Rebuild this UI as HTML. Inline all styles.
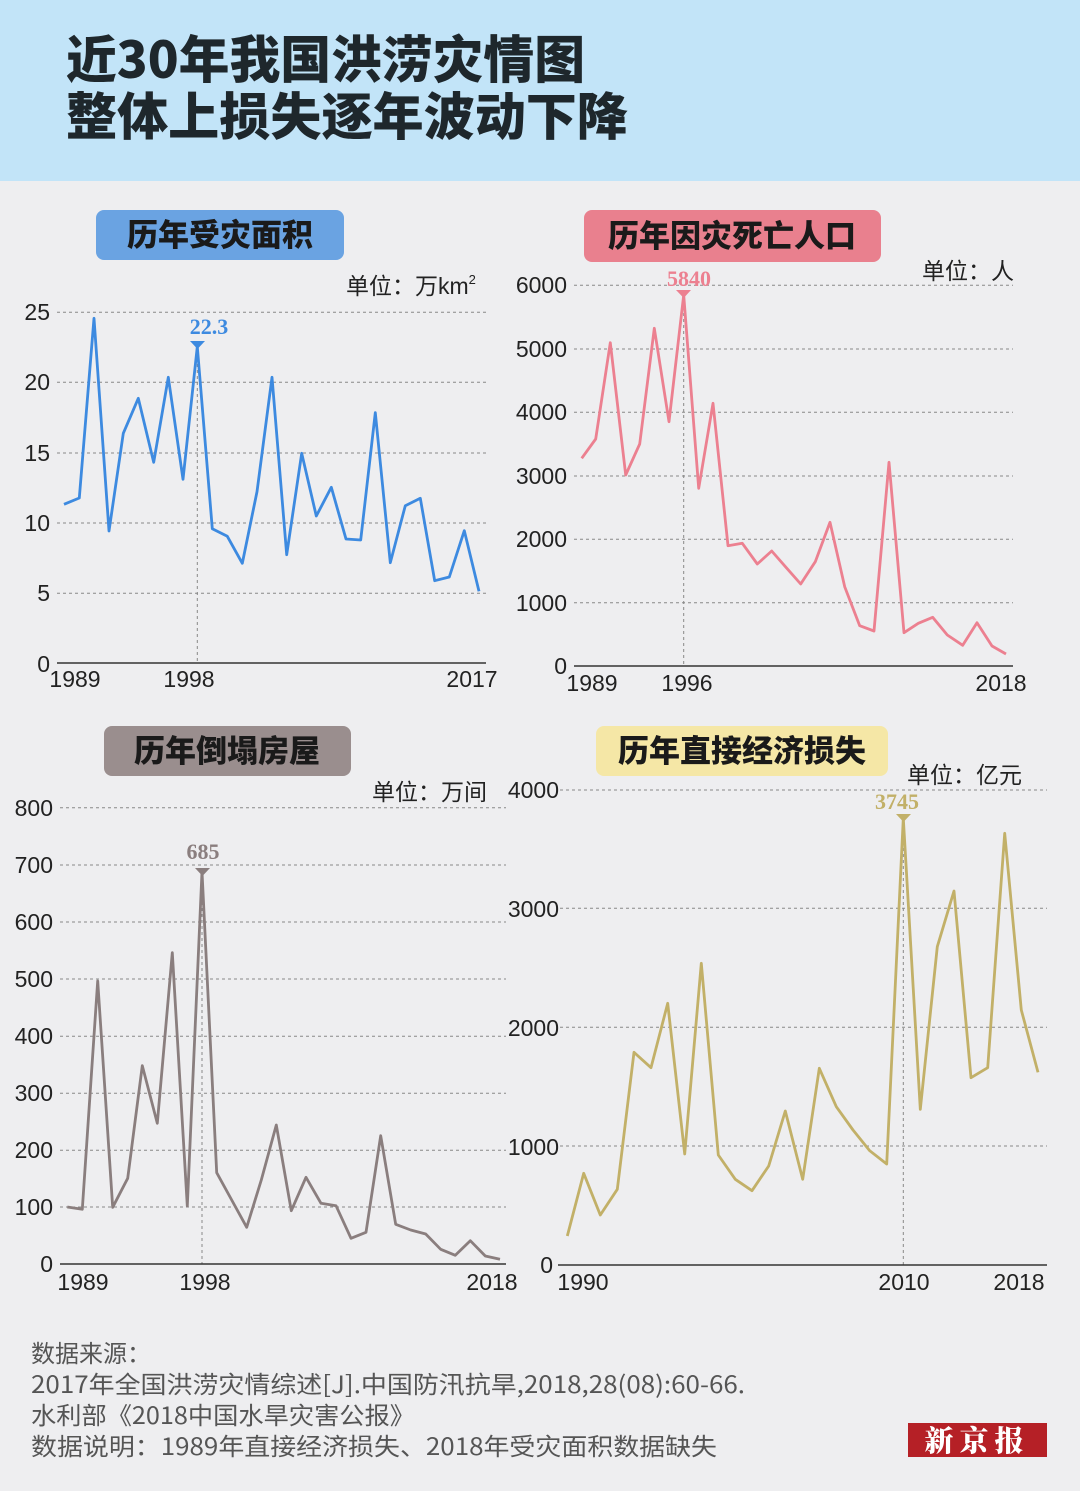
<!DOCTYPE html>
<html><head><meta charset="utf-8"><style>
html,body{margin:0;padding:0;background:#eeeef0}
svg{display:block}
.t{font-family:"Liberation Sans","Noto Sans CJK SC",sans-serif;fill:#222;font-size:23px}
.ti{font-family:"Noto Sans CJK SC",sans-serif;font-weight:900;fill:#1e272c}
.pl{font-family:"Noto Sans CJK SC",sans-serif;font-weight:900;fill:#1a1a1a;font-size:31px}
.g{stroke:#888;stroke-width:1;stroke-dasharray:3 3}
.ax{stroke:#333;stroke-width:1.5}
.ft{font-family:"Noto Sans CJK SC",sans-serif;fill:#555;font-size:24px}
.pk{font-family:"Liberation Serif","Noto Serif CJK SC",serif;font-weight:bold;font-size:22px}
</style></head><body>
<svg width="1080" height="1491" viewBox="0 0 1080 1491" xmlns="http://www.w3.org/2000/svg">
<rect width="1080" height="1491" fill="#eeeef0"/>
<rect width="1080" height="181" fill="#c2e4f8"/>
<text class="ti" x="66" y="78" font-size="51" textLength="519" lengthAdjust="spacingAndGlyphs">近30年我国洪涝灾情图</text>
<text class="ti" x="66" y="135" font-size="51" textLength="562" lengthAdjust="spacingAndGlyphs">整体上损失逐年波动下降</text>

<!-- Chart 1 -->
<rect x="96" y="210" width="248" height="50" rx="8" fill="#6aa3e2"/>
<text class="pl" x="220" y="246" text-anchor="middle">历年受灾面积</text>
<text class="t" x="346" y="294">单位：万km<tspan font-size="13" dy="-10">2</tspan></text>
<g>
<line class="g" x1="57" x2="486" y1="312.3" y2="312.3"/><line class="g" x1="57" x2="486" y1="382.3" y2="382.3"/><line class="g" x1="57" x2="486" y1="453" y2="453"/><line class="g" x1="57" x2="486" y1="523" y2="523"/><line class="g" x1="57" x2="486" y1="593.3" y2="593.3"/>
<line class="g" x1="197.3" x2="197.3" y1="346" y2="663"/>
<line class="ax" x1="57" x2="486" y1="663" y2="663"/>
<text class="t" x="50" y="320" text-anchor="end">25</text><text class="t" x="50" y="390" text-anchor="end">20</text><text class="t" x="50" y="461" text-anchor="end">15</text><text class="t" x="50" y="531" text-anchor="end">10</text><text class="t" x="50" y="601" text-anchor="end">5</text><text class="t" x="50" y="672" text-anchor="end">0</text>
<text class="t" x="75" y="687" text-anchor="middle">1989</text><text class="t" x="189" y="687" text-anchor="middle">1998</text><text class="t" x="472" y="687" text-anchor="middle">2017</text>
<polyline fill="none" stroke="#3d8ae0" stroke-width="2.8" stroke-linejoin="round" points="64,504.3 79.3,498 94,318.3 109,531 123.3,433.3 138.3,398.3 153.7,462.3 168.3,377.3 183,479.3 197.3,346.7 212.3,528.7 227.3,536.3 242.3,563.3 257,491.7 272,377.3 286.7,554.7 301.7,453.3 316.3,516 331.3,487.3 346,539 360.7,540 375.3,412.7 390.3,562.7 405.3,505.7 420.3,498.3 434.7,580.7 449.3,577 464.3,530.7 479,591.3"/>
<polygon points="190,341 205,341 197.5,349" fill="#3d8ae0"/>
<text class="pk" x="209" y="334" text-anchor="middle" fill="#3d8ae0">22.3</text>
</g>

<!-- Chart 2 -->
<rect x="584" y="210" width="297" height="52" rx="8" fill="#e9808e"/>
<text class="pl" x="732" y="247" text-anchor="middle">历年因灾死亡人口</text>
<text class="t" x="922" y="279">单位：人</text>
<g>
<line class="g" x1="574" x2="1013" y1="285.3" y2="285.3"/><line class="g" x1="574" x2="1013" y1="349" y2="349"/><line class="g" x1="574" x2="1013" y1="412.3" y2="412.3"/><line class="g" x1="574" x2="1013" y1="476" y2="476"/><line class="g" x1="574" x2="1013" y1="539.3" y2="539.3"/><line class="g" x1="574" x2="1013" y1="602.7" y2="602.7"/>
<line class="g" x1="683.7" x2="683.7" y1="295" y2="666"/>
<line class="ax" x1="574" x2="1013" y1="666" y2="666"/>
<text class="t" x="567" y="293" text-anchor="end">6000</text><text class="t" x="567" y="357" text-anchor="end">5000</text><text class="t" x="567" y="420" text-anchor="end">4000</text><text class="t" x="567" y="484" text-anchor="end">3000</text><text class="t" x="567" y="547" text-anchor="end">2000</text><text class="t" x="567" y="611" text-anchor="end">1000</text><text class="t" x="567" y="674" text-anchor="end">0</text>
<text class="t" x="592" y="691" text-anchor="middle">1989</text><text class="t" x="687" y="691" text-anchor="middle">1996</text><text class="t" x="1001" y="691" text-anchor="middle">2018</text>
<polyline fill="none" stroke="#ec8090" stroke-width="2.8" stroke-linejoin="round" points="581.7,458.3 595.7,439 610.3,342.7 625.7,475 639.7,444 654.3,328.3 669,421.7 683.7,295 698.7,488.3 713,403.3 728,545.7 742.3,543.3 757.3,564 771.7,551 786.3,567.7 800.7,584 815.3,561.7 830,522.3 844.7,586.7 859.7,625.7 874,631 889,462.3 904,632.7 918.3,623.3 932.7,617.3 947.3,635 962.7,645.3 977,622.7 992,646 1006,654"/>
<polygon points="676,290 691,290 683.7,298" fill="#ec8090"/>
<text class="pk" x="689" y="286" text-anchor="middle" fill="#ec8090">5840</text>
</g>

<!-- Chart 3 -->
<rect x="104" y="726" width="247" height="50" rx="8" fill="#9a8e8e"/>
<text class="pl" x="227" y="762" text-anchor="middle">历年倒塌房屋</text>
<text class="t" x="372" y="800">单位：万间</text>
<g>
<line class="g" x1="60" x2="506" y1="807.7" y2="807.7"/><line class="g" x1="60" x2="506" y1="865" y2="865"/><line class="g" x1="60" x2="506" y1="922" y2="922"/><line class="g" x1="60" x2="506" y1="979" y2="979"/><line class="g" x1="60" x2="506" y1="1036.3" y2="1036.3"/><line class="g" x1="60" x2="506" y1="1093.3" y2="1093.3"/><line class="g" x1="60" x2="506" y1="1150.3" y2="1150.3"/><line class="g" x1="60" x2="506" y1="1207" y2="1207"/>
<line class="g" x1="202" x2="202" y1="872" y2="1264"/>
<line class="ax" x1="60" x2="506" y1="1264" y2="1264"/>
<text class="t" x="53" y="816" text-anchor="end">800</text><text class="t" x="53" y="873" text-anchor="end">700</text><text class="t" x="53" y="930" text-anchor="end">600</text><text class="t" x="53" y="987" text-anchor="end">500</text><text class="t" x="53" y="1044" text-anchor="end">400</text><text class="t" x="53" y="1101" text-anchor="end">300</text><text class="t" x="53" y="1158" text-anchor="end">200</text><text class="t" x="53" y="1215" text-anchor="end">100</text><text class="t" x="53" y="1272" text-anchor="end">0</text>
<text class="t" x="83" y="1290" text-anchor="middle">1989</text><text class="t" x="205" y="1290" text-anchor="middle">1998</text><text class="t" x="492" y="1290" text-anchor="middle">2018</text>
<polyline fill="none" stroke="#8a7e7e" stroke-width="2.8" stroke-linejoin="round" points="67.3,1207 82.3,1209.3 97.7,981 112.7,1207.3 127.7,1178.3 142.3,1065.7 157.3,1123.3 172.3,952.7 187.3,1206 202,871.7 216.7,1172.7 231.7,1200 246.7,1227.3 261.3,1180 276.3,1125 291.3,1210.7 306,1177.3 321,1203.3 336,1205.7 351,1238.3 366,1232.3 380.7,1135.7 395.7,1224.3 410.7,1230 425.7,1234 440.7,1249.3 455.3,1255.3 470.3,1240.7 485.3,1256 500,1259.3"/>
<polygon points="195,868 210,868 202.5,876" fill="#8a7e7e"/>
<text class="pk" x="203" y="859" text-anchor="middle" fill="#8a7e7e">685</text>
</g>

<!-- Chart 4 -->
<rect x="596" y="726" width="292" height="50" rx="8" fill="#f5e7a6"/>
<text class="pl" x="742" y="762" text-anchor="middle">历年直接经济损失</text>
<text class="t" x="907" y="783">单位：亿元</text>
<g>
<line class="g" x1="560" x2="1047" y1="790" y2="790"/><line class="g" x1="560" x2="1047" y1="908.3" y2="908.3"/><line class="g" x1="560" x2="1047" y1="1027.3" y2="1027.3"/><line class="g" x1="560" x2="1047" y1="1146" y2="1146"/>
<line class="g" x1="903.3" x2="903.3" y1="818" y2="1265"/>
<line class="ax" x1="558" x2="1047" y1="1265" y2="1265"/>
<text class="t" x="559" y="798" text-anchor="end">4000</text><text class="t" x="559" y="917" text-anchor="end">3000</text><text class="t" x="559" y="1036" text-anchor="end">2000</text><text class="t" x="559" y="1155" text-anchor="end">1000</text><text class="t" x="553" y="1273" text-anchor="end">0</text>
<text class="t" x="583" y="1290" text-anchor="middle">1990</text><text class="t" x="904" y="1290" text-anchor="middle">2010</text><text class="t" x="1019" y="1290" text-anchor="middle">2018</text>
<polyline fill="none" stroke="#c2b068" stroke-width="2.8" stroke-linejoin="round" points="567.3,1236 583.7,1173.3 600.3,1215 617.3,1189.3 634,1052.3 651,1067.7 667.7,1003.3 684.7,1154 701.3,963.3 718.3,1155 735.3,1179.3 752,1190.7 768.7,1166 785.3,1111 802.7,1179.3 819.3,1068.3 836.3,1106.7 853,1130 869.7,1150.7 886.7,1164 903.3,818.3 920.3,1109.3 937.3,946.7 954,891 971,1077.7 987.7,1067.7 1004.7,833.3 1021.3,1010 1038,1072.3"/>
<polygon points="896,814 911,814 903.5,822" fill="#c2b068"/>
<text class="pk" x="897" y="809" text-anchor="middle" fill="#c2b068">3745</text>
</g>

<!-- Footer -->
<text class="ft" x="31" y="1362">数据来源：</text>
<text class="ft" x="31" y="1393" textLength="714" lengthAdjust="spacingAndGlyphs">2017年全国洪涝灾情综述[J].中国防汛抗旱,2018,28(08):60-66.</text>
<text class="ft" x="31" y="1424" textLength="384" lengthAdjust="spacingAndGlyphs">水利部《2018中国水旱灾害公报》</text>
<text class="ft" x="31" y="1455" textLength="686" lengthAdjust="spacingAndGlyphs">数据说明：1989年直接经济损失、2018年受灾面积数据缺失</text>
<rect x="908" y="1423" width="139" height="34" fill="#b52026"/>
<text x="977" y="1451" text-anchor="middle" font-family="Noto Serif CJK SC,serif" font-weight="900" font-size="29" fill="#fff" letter-spacing="6">新京报</text>
</svg>
</body></html>
